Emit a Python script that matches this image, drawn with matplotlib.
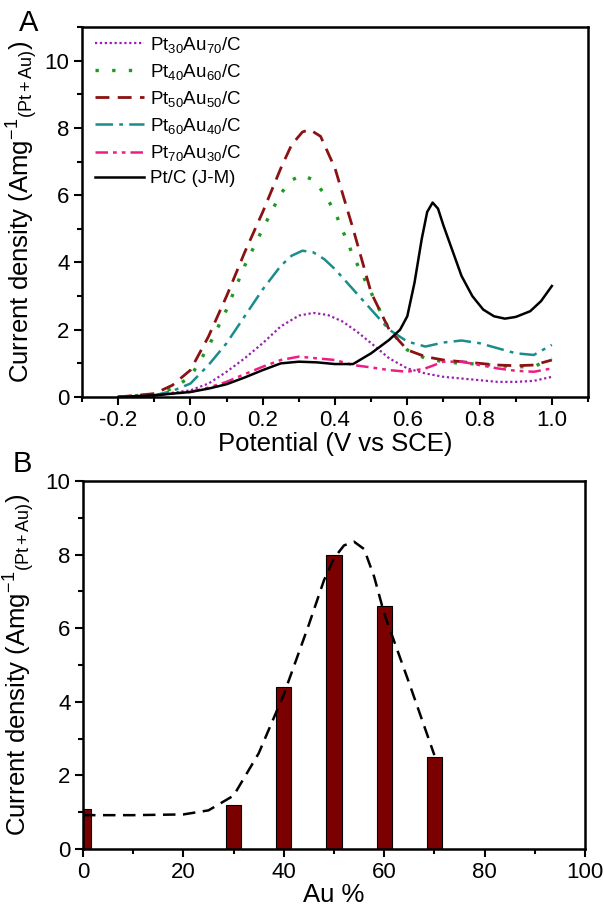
import numpy as np
import matplotlib
matplotlib.use('Agg')
import matplotlib.pyplot as plt
from matplotlib.ticker import MultipleLocator

plt.rcParams['font.family'] = ['Liberation Sans', 'DejaVu Sans']
plt.rcParams['mathtext.fontset'] = 'custom'
plt.rcParams['mathtext.rm'] = 'Liberation Sans'
plt.rcParams['mathtext.it'] = 'Liberation Sans'
plt.rcParams['mathtext.bf'] = 'Liberation Sans:bold'

# panel A: current density vs potential
v_3070 = [-0.2, -0.1, 0.0, 0.05, 0.1, 0.15, 0.2, 0.25, 0.3, 0.34, 0.38, 0.42, 0.46, 0.5, 0.55, 0.6, 0.65, 0.7, 0.75, 0.8, 0.85, 0.9, 0.95, 1.0]
j_3070 = [0.0, 0.05, 0.2, 0.4, 0.75, 1.15, 1.6, 2.1, 2.42, 2.5, 2.44, 2.25, 1.95, 1.6, 1.15, 0.85, 0.7, 0.6, 0.55, 0.5, 0.45, 0.45, 0.48, 0.6]

v_4060 = [-0.2, -0.1, -0.05, 0.0, 0.05, 0.1, 0.15, 0.2, 0.25, 0.28, 0.31, 0.34, 0.37, 0.4, 0.45, 0.5, 0.55, 0.6, 0.65, 0.7, 0.75, 0.8, 0.85, 0.9, 0.95, 1.0]
j_4060 = [0.0, 0.08, 0.25, 0.6, 1.5, 2.6, 3.9, 5.0, 6.05, 6.45, 6.6, 6.45, 6.05, 5.5, 4.2, 3.1, 2.0, 1.4, 1.15, 1.05, 1.0, 0.98, 0.93, 0.9, 0.9, 1.15]

v_5050 = [-0.2, -0.15, -0.1, -0.05, 0.0, 0.05, 0.1, 0.15, 0.2, 0.25, 0.28, 0.31, 0.33, 0.36, 0.4, 0.45, 0.5, 0.55, 0.6, 0.65, 0.7, 0.75, 0.8, 0.85, 0.9, 0.95, 1.0]
j_5050 = [0.0, 0.05, 0.1, 0.35, 0.8, 1.8, 3.0, 4.3, 5.5, 6.8, 7.5, 7.88, 7.95, 7.75, 6.8, 5.0, 3.1, 2.0, 1.4, 1.2, 1.1, 1.05, 1.0, 0.95, 0.93, 0.95, 1.1]

v_6040 = [-0.2, -0.1, -0.05, 0.0, 0.05, 0.1, 0.15, 0.2, 0.25, 0.28, 0.31, 0.34, 0.37, 0.4, 0.45, 0.5, 0.55, 0.6, 0.65, 0.7, 0.75, 0.8, 0.85, 0.9, 0.95, 1.0]
j_6040 = [0.0, 0.05, 0.18, 0.4, 0.95, 1.6, 2.4, 3.2, 3.9, 4.2, 4.35, 4.3, 4.1, 3.8, 3.2, 2.6, 2.0, 1.65, 1.5, 1.62, 1.68, 1.6, 1.45, 1.3, 1.25, 1.55]

v_7030 = [-0.2, -0.1, 0.0, 0.05, 0.1, 0.15, 0.2, 0.25, 0.3, 0.35, 0.4, 0.45, 0.5, 0.55, 0.6, 0.65, 0.7, 0.75, 0.8, 0.85, 0.9, 0.95, 1.0]
j_7030 = [0.0, 0.05, 0.15, 0.28, 0.45, 0.68, 0.9, 1.1, 1.2, 1.15, 1.1, 0.95, 0.88, 0.8, 0.75, 0.85, 1.05, 1.05, 0.95, 0.85, 0.78, 0.75, 0.85]

v_ptc = [-0.2, -0.1, 0.0, 0.05, 0.1, 0.15, 0.2, 0.25, 0.3, 0.35, 0.4, 0.45, 0.5, 0.55, 0.58, 0.6, 0.62, 0.64, 0.655, 0.67, 0.685, 0.7, 0.72, 0.75, 0.78, 0.81, 0.84, 0.87, 0.9, 0.94, 0.97, 1.0]
j_ptc = [0.0, 0.05, 0.15, 0.25, 0.38, 0.58, 0.8, 1.0, 1.05, 1.03, 0.98, 0.98, 1.3, 1.7, 2.0, 2.4, 3.4, 4.7, 5.5, 5.78, 5.6, 5.1, 4.5, 3.6, 3.0, 2.6, 2.4, 2.33, 2.38, 2.55, 2.85, 3.3]

# panel B: peak current vs Au content
au_pct = [0, 30, 40, 50, 60, 70]
peak_j = [1.1, 1.2, 4.4, 8.0, 6.6, 2.5]
trend_x = [0, 10, 20, 25, 30, 35, 40, 45, 48, 50, 52, 54, 56, 58, 60, 65, 70]
trend_y = [0.92, 0.92, 0.94, 1.05, 1.45, 2.6, 4.2, 6.1, 7.3, 7.9, 8.25, 8.35, 8.15, 7.4, 6.4, 4.5, 2.55]

ylab = r'Current density (Amg$^{-1}$$_{\mathrm{(Pt+Au)}}$)'

fig = plt.figure(figsize=(6.04, 9.06), dpi=100)
ax1 = fig.add_axes([0.1358, 0.5618, 0.8377, 0.4084])
ax2 = fig.add_axes([0.1374, 0.0629, 0.8311, 0.4062])

curves = [
	(v_3070, j_3070, r'Pt$_{30}$Au$_{70}$/C', '#9a1fb0', (0, (1, 1.2)), 1.6),
	(v_4060, j_4060, r'Pt$_{40}$Au$_{60}$/C', '#1e9a1e', (0, (1, 4)), 2.4),
	(v_5050, j_5050, r'Pt$_{50}$Au$_{50}$/C', '#8b1212', (0, (5, 3)), 2.0),
	(v_6040, j_6040, r'Pt$_{60}$Au$_{40}$/C', '#1a8c8c', (0, (7, 2.5, 1.5, 2.5)), 1.8),
	(v_7030, j_7030, r'Pt$_{70}$Au$_{30}$/C', '#f01c86', (0, (5, 2, 1.5, 2, 1.5, 2)), 1.8),
	(v_ptc, j_ptc, 'Pt/C (J-M)', 'black', '-', 1.8),
]
for x, y, lab, col, ls, lw in curves:
	ax1.plot(x, y, color=col, linestyle=ls, linewidth=lw, label=lab)

ax1.set_xlim(-0.3, 1.1)
ax1.set_ylim(0, 11)
ax1.xaxis.set_minor_locator(MultipleLocator(0.1))
ax1.yaxis.set_minor_locator(MultipleLocator(1))
ax1.set_xticks([-0.2, 0.0, 0.2, 0.4, 0.6, 0.8, 1.0])
ax1.set_xticklabels(['-0.2', '0.0', '0.2', '0.4', '0.6', '0.8', '1.0'])
ax1.set_yticks([0, 2, 4, 6, 8, 10])
ax1.set_xlabel('Potential (V vs SCE)', fontsize=18.5, labelpad=1)
ax1.set_ylabel(ylab, fontsize=18.5, labelpad=3)
ax1.legend(loc='upper left', frameon=False, fontsize=13.5, handlelength=2.6,
	handletextpad=0.3, labelspacing=0.38, borderaxespad=0.3, bbox_to_anchor=(0.0, 1.015))
ax1.text(-0.125, 1.01, 'A', transform=ax1.transAxes, fontsize=21, ha='left', va='center')

ax2.bar(au_pct, peak_j, width=3, color='#7b0000', edgecolor='black', linewidth=0.8, zorder=2)
ax2.plot(trend_x, trend_y, color='black', linestyle=(0, (5, 3)), linewidth=1.8, zorder=3)
ax2.set_xlim(0, 100)
ax2.set_ylim(0, 10)
ax2.xaxis.set_major_locator(MultipleLocator(20))
ax2.xaxis.set_minor_locator(MultipleLocator(10))
ax2.yaxis.set_major_locator(MultipleLocator(2))
ax2.yaxis.set_minor_locator(MultipleLocator(1))
ax2.set_xlabel('Au %', fontsize=18.5, labelpad=0)
ax2.set_ylabel(ylab, fontsize=18.5, labelpad=6)
ax2.text(-0.14, 1.045, 'B', transform=ax2.transAxes, fontsize=21, ha='left', va='center')

for ax in (ax1, ax2):
	for s in ax.spines.values():
		s.set_linewidth(1.8)
	ax.tick_params(which='both', direction='out', top=False, right=False, width=1.5)
	ax.tick_params(which='major', length=6, labelsize=16, pad=3)
	ax.tick_params(which='minor', length=3.5)

fig.savefig('out.png', dpi=100)
